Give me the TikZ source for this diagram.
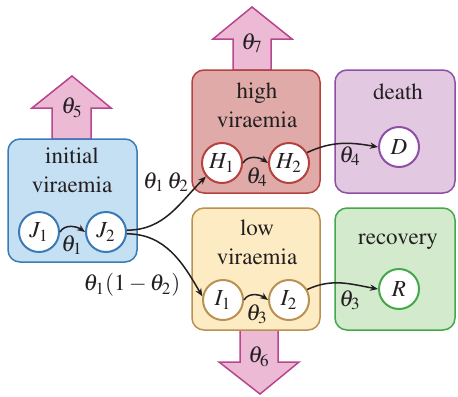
\documentclass[tikz,border=0pt]{standalone}
\usepackage[T1]{fontenc}
\usepackage{mathptmx}
\usetikzlibrary{arrows.meta}
\definecolor{bfill}{HTML}{C5DFF3}\definecolor{bdraw}{HTML}{3B7BB5}
\definecolor{rfill}{HTML}{DFAAA8}\definecolor{rdraw}{HTML}{B5423F}
\definecolor{pfill}{HTML}{E2C8E0}\definecolor{pdraw}{HTML}{8E4FA8}
\definecolor{yfill}{HTML}{FDEBC4}\definecolor{ydraw}{HTML}{B99150}
\definecolor{gfill}{HTML}{D3EACD}\definecolor{gdraw}{HTML}{43A84A}
\definecolor{afill}{HTML}{EDBAD6}\definecolor{adraw}{HTML}{B8468F}
\definecolor{txt}{HTML}{231F20}
\begin{document}
\begin{tikzpicture}[x=0.5pt,y=0.5pt,
  every node/.style={font=\fontsize{11.5}{14.5}\selectfont, text=txt},
  box/.style={rounded corners=6pt, line width=0.75pt},
  fat/.style={fill=afill, draw=adraw, line width=0.75pt, line join=miter},
  st/.style={circle, fill=white, line width=1pt, minimum size=20pt, inner sep=0pt},
  arr/.style={-{Stealth[length=4pt,width=3.2pt]}, line width=0.75pt, draw=txt},
  lbl/.style={inner sep=1pt}]
\useasboundingbox (0,0) rectangle (458,-396);
% fat arrows
\draw[fat] (52,-139) -- (52,-108) -- (32,-108) -- (72,-76) -- (111,-108) -- (91,-108) -- (91,-139) -- cycle;
\draw[fat] (233,-70) -- (233,-39) -- (213,-39) -- (252,-7) -- (292,-39) -- (271,-39) -- (271,-70) -- cycle;
\draw[fat] (240,-330) -- (240,-362) -- (219,-362) -- (260,-394) -- (299,-362) -- (278,-362) -- (278,-330) -- cycle;
\node (t5) at (72,-108) {$\theta_5$};
\node (t7) at (252,-43) {$\theta_7$};
\node (t6) at (259,-357) {$\theta_6$};
% boxes
\draw[box, fill=bfill, draw=bdraw] (8,-139) rectangle (137,-262);
\draw[box, fill=rfill, draw=rdraw] (192,-70) rectangle (320,-193);
\draw[box, fill=pfill, draw=pdraw] (335,-70) rectangle (455,-193);
\draw[box, fill=yfill, draw=ydraw] (192,-208) rectangle (320,-330);
\draw[box, fill=gfill, draw=gdraw] (335,-208) rectangle (455,-330);
% titles
\node[align=center] (ti) at (72,-170) {initial\\viraemia};
\node[align=center] (th) at (257,-105) {high\\viraemia};
\node (td) at (398,-92) {death};
\node[align=center] (tl) at (257,-242) {low\\viraemia};
\node (tr) at (398,-242) {recovery};
% states
\node[st, draw=bdraw] (J1) at (39,-232) {$J_1$};
\node[st, draw=bdraw] (J2) at (106,-232) {$J_2$};
\node[st, draw=rdraw] (H1) at (222,-163) {$H_1$};
\node[st, draw=rdraw] (H2) at (289,-163) {$H_2$};
\node[st, draw=pdraw] (D) at (399,-147) {$D$};
\node[st, draw=ydraw] (I1) at (223,-300) {$I_1$};
\node[st, draw=ydraw] (I2) at (289,-300) {$I_2$};
\node[st, draw=gdraw] (R) at (399,-289) {$R$};
% transitions
\draw[arr] (J1.east) to[out=60,in=145] (J2.west);
\draw[arr] (H1.east) to[out=60,in=145] (H2.west);
\draw[arr] (I1.east) to[out=60,in=145] (I2.west);
\draw[arr] (J2.5) to[out=0,in=225] (H1.220);
\draw[arr] (J2.-5) to[out=0,in=120] (I1.170);
\draw[arr] (H2.30) to[out=25,in=170] (D.west);
\draw[arr] (I2.30) to[out=25,in=170] (R.west);
% labels
\node[lbl] (l1) at (72,-245) {$\theta_1$};
\node[lbl] (l4) at (257,-177) {$\theta_4$};
\node[lbl] (l3) at (257,-314) {$\theta_3$};
\node[lbl] (l4b) at (350,-156) {$\theta_4$};
\node[lbl] (l3b) at (350,-300) {$\theta_3$};
\node[lbl] (l12) at (166,-182) {$\theta_1\,\theta_2$};
\node[lbl] (l12b) at (132,-285) {$\theta_1(1-\theta_2)$};
\end{tikzpicture}
\end{document}
